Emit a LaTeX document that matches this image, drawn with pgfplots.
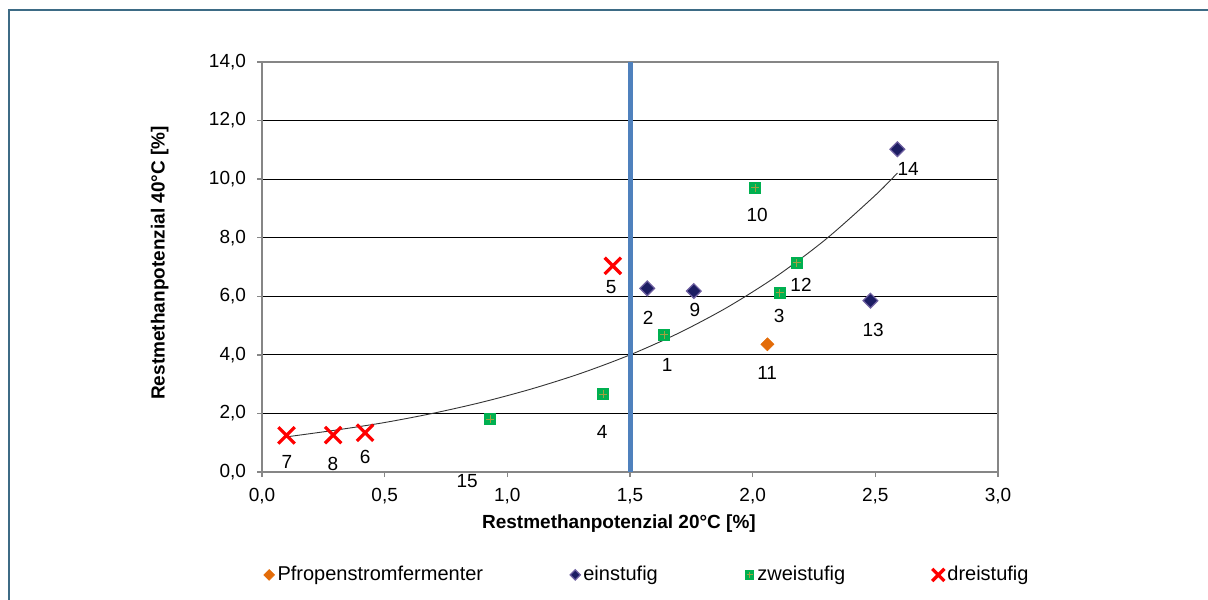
\documentclass[border=0pt]{standalone}
\usepackage{fontspec}
\setmainfont{Liberation Sans}
\usepackage{pgfplots}
\pgfplotsset{compat=1.18}

\definecolor{frame}{HTML}{3D6B85}
\definecolor{navy}{HTML}{1C1D63}
\definecolor{navyedge}{HTML}{6E5FA0}
\definecolor{orng}{HTML}{E36C09}
\definecolor{zgreen}{HTML}{00B050}
\definecolor{zcross}{HTML}{A0A040}
\definecolor{vline}{HTML}{4F81BD}
\definecolor{axgray}{HTML}{868686}

% green square with a small olive cross, as in the source
\pgfdeclareplotmark{sqplus}{%
  \pgfsetfillcolor{zgreen}%
  \pgfpathrectangle{\pgfqpoint{-\pgfplotmarksize}{-\pgfplotmarksize}}{\pgfqpoint{2\pgfplotmarksize}{2\pgfplotmarksize}}%
  \pgfusepath{fill}%
  \pgfsetstrokecolor{zcross}\pgfsetlinewidth{0.5pt}%
  \pgfpathmoveto{\pgfqpoint{-0.65\pgfplotmarksize}{0pt}}\pgfpathlineto{\pgfqpoint{0.65\pgfplotmarksize}{0pt}}%
  \pgfpathmoveto{\pgfqpoint{0pt}{-0.65\pgfplotmarksize}}\pgfpathlineto{\pgfqpoint{0pt}{0.65\pgfplotmarksize}}%
  \pgfusepath{stroke}}

\pgfplotstableread{
x y
2.06 4.36
}\pfropf
\pgfplotstableread{
x y
1.57 6.27
1.76 6.18
2.48 5.85
2.59 11.02
}\einst
\pgfplotstableread{
x y
0.93 1.80
1.39 2.66
1.64 4.68
2.11 6.12
2.18 7.15
2.01 9.71
}\zweist
\pgfplotstableread{
x y
0.10 1.25
0.29 1.26
0.42 1.34
1.43 7.04
}\dreist
% trend curve
\pgfplotstableread{
x y
0.10 1.20
0.30 1.43
0.50 1.69
0.70 2.01
0.90 2.39
1.10 2.84
1.30 3.37
1.50 4.00
1.70 4.75
1.90 5.64
2.10 6.70
2.30 7.96
2.50 9.45
2.59 10.21
}\trend
% point numbers, at their label positions
\pgfplotstableread{
x y lab
0.102 0.34 7
0.289 0.27 8
0.420 0.51 6
1.423 6.32 5
0.836 -0.31 15
1.386 1.37 4
1.651 3.65 1
1.574 5.26 2
1.765 5.53 9
2.108 5.33 3
2.197 6.38 12
2.018 8.77 10
2.491 4.85 13
2.634 10.34 14
2.059 3.38 11
}\labels

\begin{document}
\begin{tikzpicture}[x=0.5pt,y=0.5pt,font=\fontsize{9.5}{11}\selectfont]
\useasboundingbox (0,0) rectangle (1208,599);
\draw[frame,line width=1pt] (9,589) rectangle (1240,-40);
\begin{axis}[
    at={(131pt,63.5pt)}, anchor=south west,
    scale only axis,
    width=368pt, height=205pt,
    xmin=0, xmax=3, ymin=0, ymax=14,
    xtick={0,0.5,...,3}, ytick={0,2,...,14},
    clip=false,
    axis line style={axgray,line width=0.75pt},
    tick style={axgray,line width=0.75pt},
    tick align=outside, major tick length=2.5pt,
    xtick pos=bottom, ytick pos=left,
    ymajorgrids=true,
    grid style={black,line width=0.5pt},
    /pgf/number format/fixed,
    /pgf/number format/fixed zerofill,
    /pgf/number format/precision=1,
    /pgf/number format/use comma,
    /pgf/number format/assume math mode=true,
    xticklabel style={yshift=-2pt},
    yticklabel style={xshift=-2pt},
    xlabel={\bfseries Restmethanpotenzial 20°C [\%]},
    ylabel={\bfseries Restmethanpotenzial 40°C [\%]},
    xlabel style={at={(axis description cs:0.485,-0.127)},anchor=center},
    ylabel style={at={(axis description cs:-0.139,0.51)},anchor=center,rotate=0},
    legend columns=4,
    legend style={at={(axis description cs:0.524,-0.251)},anchor=center,
        draw=none,fill=none,font=\fontsize{10}{12}\selectfont,
        /tikz/every odd column/.append style={column sep=0pt},
        /tikz/every even column/.append style={column sep=42pt},
        nodes={inner xsep=1.5pt}},
    legend cell align=left,
    legend image code/.code={\draw[mark repeat=2,mark phase=2,#1] plot coordinates {(0pt,0pt)(2pt,0pt)(4pt,0pt)};},
]
\addplot[forget plot,draw=black!80,line width=0.45pt,smooth] table {\trend};
\addplot[forget plot,vline,line width=2.5pt] coordinates {(1.5,0) (1.5,14)};
\addplot[only marks,mark=square*,mark size=2.3pt,
    mark options={rotate=45,fill=orng,draw=orng,line width=0.3pt},
    legend image post style={mark size=1.9pt}] table {\pfropf};
\addplot[only marks,mark=square*,mark size=2.6pt,
    mark options={rotate=45,fill=navy,draw=navyedge,line width=0.6pt},
    legend image post style={mark size=1.8pt}] table {\einst};
\addplot[only marks,mark=sqplus,mark size=3pt,
    legend image post style={mark size=2.4pt}] table {\zweist};
\addplot[only marks,mark=x,mark size=5.8pt,
    mark options={red,line width=1.6pt},
    legend image post style={mark size=4.3pt}] table {\dreist};
\addplot[forget plot,draw=none,mark=none,nodes near coords,
    point meta=explicit symbolic,
    every node near coord/.style={anchor=center,inner sep=0pt,font=\fontsize{9.5}{11}\selectfont}]
    table[meta=lab] {\labels};
\legend{Pfropenstromfermenter,einstufig,zweistufig,dreistufig}
\end{axis}
\end{tikzpicture}
\end{document}
